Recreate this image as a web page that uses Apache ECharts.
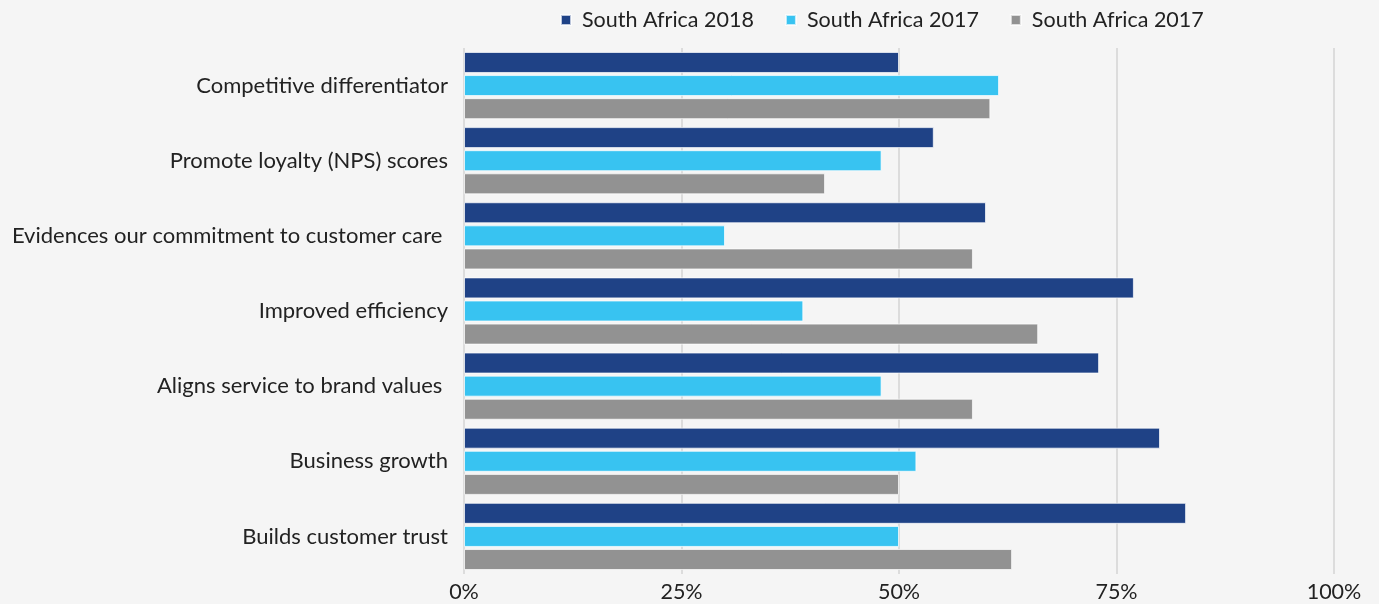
<!DOCTYPE html>
<html>
<head>
<meta charset="utf-8">
<script src="https://cdn.jsdelivr.net/npm/echarts@6/dist/echarts.min.js"></script>
<style>
  html, body { margin: 0; padding: 0; background: #f5f5f5; }
  #chart { width: 1379px; height: 604px; }
</style>
</head>
<body>
<div id="chart"></div>
<script>
// Reasons listed top to bottom
const categories = [
  'Competitive differentiator',
  'Promote loyalty (NPS) scores',
  'Evidences our commitment to customer care ',
  'Improved efficiency',
  'Aligns service to brand values ',
  'Business growth',
  'Builds customer trust'
];

// Share of respondents, percent
const sa2018 = [50, 54, 60, 77, 73, 80, 83];
const sa2017 = [61.5, 48, 30, 39, 48, 52, 50];
const sa2017b = [60.5, 41.5, 58.5, 66, 58.5, 50, 63];

const seriesNames = ['South Africa 2018', 'South Africa 2017', 'South Africa 2017 '];
const seriesColors = ['#1f4286', '#38c3f1', '#929292'];
const seriesValues = [sa2018, sa2017, sa2017b];

const xTicks = [0, 25, 50, 75, 100];

const chart = echarts.init(document.getElementById('chart'));
const font = 'Lato, "Open Sans", sans-serif';

chart.setOption({
  backgroundColor: '#f5f5f5',
  textStyle: { fontFamily: font },
  legend: {
    left: 555,
    top: 4,
    itemWidth: 10,
    itemHeight: 10,
    itemGap: 31,
    icon: 'rect',
    textStyle: { fontSize: 21.5, color: '#222', fontFamily: font, padding: [0, 0, 0, 6] },
    data: seriesNames
  },
  grid: { left: 464, right: 45, top: 48, bottom: 30, containLabel: false },
  xAxis: {
    type: 'value',
    min: xTicks[0],
    max: xTicks[xTicks.length - 1],
    interval: 25,
    axisLine: { show: false },
    axisTick: { show: false },
    splitLine: { lineStyle: { color: '#d3d3d3', width: 1.5 } },
    axisLabel: {
      formatter: v => v + '%',
      fontSize: 21.5,
      color: '#222',
      margin: 7,
      fontFamily: font
    }
  },
  yAxis: {
    type: 'category',
    inverse: true,
    data: categories,
    axisLine: { show: false },
    axisTick: { show: false },
    axisLabel: { fontSize: 22, color: '#222', margin: 16, fontFamily: font }
  },
  series: seriesValues.map((vals, i) => ({
    name: seriesNames[i],
    type: 'bar',
    data: vals,
    barWidth: 21,
    barGap: '10%',
    itemStyle: { color: seriesColors[i], borderColor: 'rgba(255,255,255,0.7)', borderWidth: 1 },
    emphasis: { disabled: true }
  })),
  animation: false
});
</script>
</body>
</html>
